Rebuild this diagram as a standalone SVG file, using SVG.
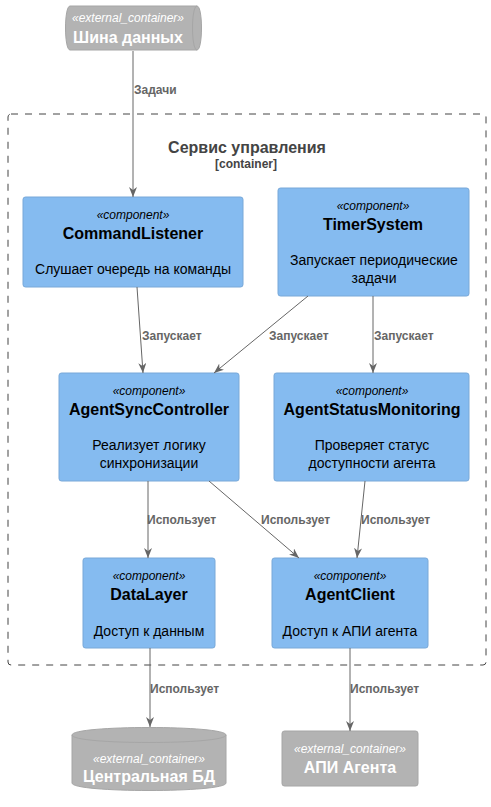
<svg xmlns="http://www.w3.org/2000/svg" width="491" height="807" viewBox="0 0 491 807">
<style>
text{font-family:"Liberation Sans",Arial,sans-serif;text-anchor:middle}
.comp{fill:#85BBF0;stroke:#78A8D8;stroke-width:1}
.ext{fill:#B3B3B3;stroke:#A6A6A6;stroke-width:1}
.st{font-size:12px;font-style:italic;fill:#000}
.nm{font-size:16px;font-weight:bold;fill:#000}
.ds{font-size:14px;fill:#000}
.est{font-size:12px;font-style:italic;fill:#FFFFFF}
.enm{font-size:16px;font-weight:bold;fill:#FFFFFF}
.lbl{font-size:12px;font-weight:bold;fill:#666666;text-anchor:start}
.ln{stroke:#666666;stroke-width:1;fill:none;marker-end:url(#arr)}
</style>
<defs>
<marker id="arr" viewBox="0 0 10 8" refX="10" refY="4" markerWidth="10" markerHeight="8" markerUnits="userSpaceOnUse" orient="auto">
<path d="M0,0 L10,4 L0,8 L3,4 Z" fill="#666666"/>
</marker>
</defs>
<g id="boundary">
<rect x="8" y="114" width="478" height="551" rx="3" fill="none" stroke="#444444" stroke-width="1" stroke-dasharray="7,7"/>
<text x="247" y="153" style="font-size:16px;font-weight:bold;fill:#444444">Сервис управления</text>
<text x="246" y="168" style="font-size:12px;font-weight:bold;fill:#444444">[container]</text>
</g>
<g id="bus">
<path class="ext" d="M70,6 L197,6 C203,6 203,50 197,50 L70,50 C64,50 64,6 70,6 Z"/>
<path d="M197,6 C191,6 191,50 197,50" fill="none" stroke="#A6A6A6"/>
<text class="est" x="128" y="22">«external_container»</text>
<text class="enm" x="128" y="43">Шина данных</text>
</g>
<g id="CommandListener">
<rect class="comp" x="23" y="197" width="220" height="90" rx="2.5"/>
<text class="st" x="133" y="219">«component»</text>
<text class="nm" x="133" y="239">CommandListener</text>
<text class="ds" x="133" y="274">Слушает очередь на команды</text>
</g>
<g id="TimerSystem">
<rect class="comp" x="278" y="188" width="191" height="108" rx="2.5"/>
<text class="st" x="373" y="210">«component»</text>
<text class="nm" x="373" y="230">TimerSystem</text>
<text class="ds" x="374" y="265">Запускает периодические</text>
<text class="ds" x="374" y="283">задачи</text>
</g>
<g id="AgentSyncController">
<rect class="comp" x="59" y="373" width="180" height="108" rx="2.5"/>
<text class="st" x="149" y="395">«component»</text>
<text class="nm" x="149" y="415">AgentSyncController</text>
<text class="ds" x="149" y="450">Реализует логику</text>
<text class="ds" x="149" y="468">синхронизации</text>
</g>
<g id="AgentStatusMonitoring">
<rect class="comp" x="274" y="373" width="195" height="108" rx="2.5"/>
<text class="st" x="372" y="395">«component»</text>
<text class="nm" x="372" y="415">AgentStatusMonitoring</text>
<text class="ds" x="372" y="450">Проверяет статус</text>
<text class="ds" x="372" y="468">доступности агента</text>
</g>
<g id="DataLayer">
<rect class="comp" x="83" y="558" width="132" height="90" rx="2.5"/>
<text class="st" x="149" y="580">«component»</text>
<text class="nm" x="149" y="600">DataLayer</text>
<text class="ds" x="149" y="636">Доступ к данным</text>
</g>
<g id="AgentClient">
<rect class="comp" x="272" y="558" width="156" height="90" rx="2.5"/>
<text class="st" x="350" y="580">«component»</text>
<text class="nm" x="350" y="600">AgentClient</text>
<text class="ds" x="350" y="636">Доступ к АПИ агента</text>
</g>
<g id="CentralDB">
<path class="ext" d="M72,735 C72,725 226,725 226,735 L226,783 C226,793 72,793 72,783 Z"/>
<path d="M72,735 C72,745 226,745 226,735" fill="none" stroke="#A6A6A6"/>
<text class="est" x="149" y="763">«external_container»</text>
<text class="enm" x="149" y="782">Центральная БД</text>
</g>
<g id="AgentAPI">
<rect class="ext" x="282" y="731" width="136" height="55" rx="2.5"/>
<text class="est" x="350" y="753">«external_container»</text>
<text class="enm" x="350" y="773">АПИ Агента</text>
</g>
<g id="connectors">
<line class="ln" x1="133" y1="51" x2="133" y2="197"/>
<text class="lbl" x="134" y="94">Задачи</text>
<line class="ln" x1="137" y1="287" x2="143" y2="373"/>
<text class="lbl" x="142" y="340">Запускает</text>
<line class="ln" x1="308" y1="296" x2="214" y2="373"/>
<text class="lbl" x="269" y="340">Запускает</text>
<line class="ln" x1="373" y1="296" x2="373" y2="373"/>
<text class="lbl" x="374" y="340">Запускает</text>
<line class="ln" x1="148" y1="481" x2="148" y2="558"/>
<text class="lbl" x="147" y="524">Использует</text>
<line class="ln" x1="209" y1="481" x2="299" y2="558"/>
<text class="lbl" x="261" y="524">Использует</text>
<line class="ln" x1="365" y1="481" x2="357" y2="558"/>
<text class="lbl" x="361" y="524">Использует</text>
<line class="ln" x1="150" y1="648" x2="150" y2="727"/>
<text class="lbl" x="150" y="693">Использует</text>
<line class="ln" x1="350" y1="648" x2="350" y2="731"/>
<text class="lbl" x="350" y="693">Использует</text>
</g>
</svg>
